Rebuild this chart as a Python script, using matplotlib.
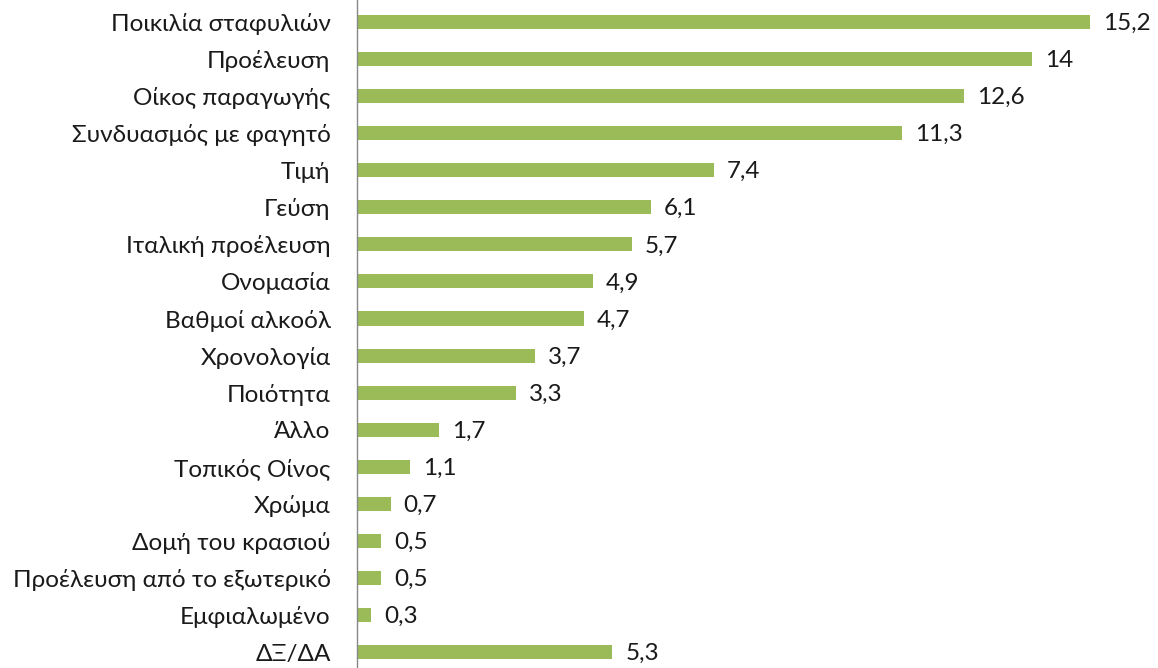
import matplotlib.pyplot as plt

categories = ["Ποικιλία σταφυλιών", "Προέλευση", "Οίκος παραγωγής", "Συνδυασμός με φαγητό",
              "Τιμή", "Γεύση", "Ιταλική προέλευση", "Ονομασία", "Βαθμοί αλκοόλ", "Χρονολογία",
              "Ποιότητα", "Άλλο", "Τοπικός Οίνος", "Χρώμα", "Δομή του κρασιού",
              "Προέλευση από το εξωτερικό", "Εμφιαλωμένο", "ΔΞ/ΔΑ"]
values = [15.2, 14, 12.6, 11.3, 7.4, 6.1, 5.7, 4.9, 4.7, 3.7, 3.3, 1.7, 1.1, 0.7, 0.5, 0.5, 0.3, 5.3]
value_labels = ["15,2", "14", "12,6", "11,3", "7,4", "6,1", "5,7", "4,9", "4,7", "3,7",
                "3,3", "1,7", "1,1", "0,7", "0,5", "0,5", "0,3", "5,3"]

plt.rcParams['font.family'] = ['Lato', 'DejaVu Sans']

fig = plt.figure(figsize=(11.58, 6.68), dpi=100)
ax = fig.add_axes([357 / 1158, 0, 1 - 357 / 1158, 1])

pos = list(range(len(categories)))
ax.barh(pos, values, height=0.38, color='#9BBB59')
for p, v, lab in zip(pos, values, value_labels):
    ax.text(v + 0.27, p + 0.04, lab, va='center', ha='left', fontsize=17.5, color='#1a1a1a')

ax.set_yticks(pos)
ax.set_yticklabels(categories, fontsize=17.5, color='#1a1a1a')
ax.tick_params(axis='y', length=0, pad=19)
ax.set_xticks([])
ax.set_xlim(0, 16.62)
ax.set_ylim(17.43, -0.594)
for s in ['top', 'right', 'bottom']:
    ax.spines[s].set_visible(False)
ax.spines['left'].set_color('#888888')
ax.spines['left'].set_linewidth(1)

fig.savefig('out.png', dpi=100)
